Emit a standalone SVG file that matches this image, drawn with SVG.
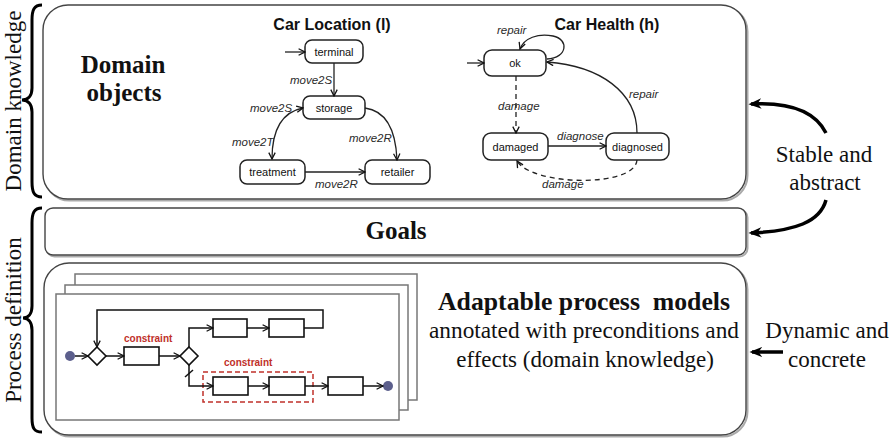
<svg xmlns="http://www.w3.org/2000/svg" width="893" height="442" viewBox="0 0 893 442">
<style>
.panel{fill:#fff;stroke:#444;stroke-width:1.4}
.shadow{fill:none;stroke:#aaa;stroke-width:2}
.state{fill:#fff;stroke:#222;stroke-width:1.5}
.stxt{font-family:"Liberation Sans",Arial,sans-serif;font-size:11px;fill:#111;text-anchor:middle}
.elab{font-family:"Liberation Sans",Arial,sans-serif;font-style:italic;font-size:11.5px;fill:#2a2a2a}
.title{font-family:"Liberation Sans",Arial,sans-serif;font-weight:bold;font-size:16px;fill:#111;text-anchor:middle}
.edge{fill:none;stroke:#222;stroke-width:1.3}
.dash{stroke-dasharray:5,4}
.serif{font-family:"Liberation Serif","Times New Roman",serif;fill:#111}
.bold{font-weight:bold}
.sheet{fill:#fff;stroke:#777;stroke-width:1.5}
.task{fill:#fff;stroke:#111;stroke-width:1.6}
.flow{fill:none;stroke:#111;stroke-width:1.5}
.red{font-family:"Liberation Sans",Arial,sans-serif;font-weight:bold;font-size:10px;fill:#c0302a}
.brace{fill:none;stroke:#000;stroke-width:3}
.big{fill:none;stroke:#000;stroke-width:3.5}
</style>
<defs>
<marker id="open" viewBox="0 0 10 10" refX="9" refY="5" markerWidth="8" markerHeight="8" markerUnits="userSpaceOnUse" orient="auto">
<path d="M1,1 L9,5 L1,9" fill="none" stroke="#111" stroke-width="1.6"/>
</marker>
<marker id="openS" viewBox="0 0 10 10" refX="9" refY="5" markerWidth="8" markerHeight="8" markerUnits="userSpaceOnUse" orient="auto-start-reverse">
<path d="M1,1 L9,5 L1,9" fill="none" stroke="#111" stroke-width="1.6"/>
</marker>
<marker id="bigA" viewBox="0 0 10 10" refX="8" refY="5" markerWidth="13" markerHeight="13" markerUnits="userSpaceOnUse" orient="auto">
<path d="M0,1 L10,5 L0,9 L3,5 Z" fill="#000"/>
</marker>
</defs>

<!-- left braces and labels -->
<g id="domain-knowledge-label">
<path class="brace" d="M42,5 C34,5 32,10 32,20 L32,88 C32,96 28,100 22,100 C28,100 32,104 32,112 L32,182 C32,192 34,197 42,197"/>
<text class="serif" font-size="23" text-anchor="middle" transform="translate(21,101) rotate(-90)">Domain knowledge</text>
</g>
<g id="process-definition-label">
<path class="brace" d="M42,208 C34,208 32,213 32,223 L32,306 C32,314 28,318 23,318 C28,318 32,322 32,330 L32,418 C32,428 34,432 42,432"/>
<text class="serif" font-size="23" text-anchor="middle" transform="translate(21,320) rotate(-90)">Process definition</text>
</g>

<!-- Domain objects panel -->
<g id="domain-objects">
<rect class="shadow" x="44.5" y="6.5" width="703" height="194" rx="25"/>
<rect class="panel" x="43" y="5" width="703" height="194" rx="25"/>
<text class="serif bold" font-size="25" text-anchor="middle" x="123" y="73">Domain</text>
<text class="serif bold" font-size="25" text-anchor="middle" x="124" y="101">objects</text>
</g>

<!-- Car Location -->
<g id="car-location">
<text class="title" x="332" y="30">Car Location (l)</text>
</g>
<g id="terminal"><rect class="state" x="305" y="40" width="58" height="23" rx="7"/><text class="stxt" x="334" y="55.5">terminal</text></g>
<g id="storage"><rect class="state" x="303" y="96" width="62" height="23" rx="7"/><text class="stxt" x="334" y="111.5">storage</text></g>
<g id="treatment"><rect class="state" x="240" y="160" width="65" height="24" rx="7"/><text class="stxt" x="272.5" y="176">treatment</text></g>
<g id="retailer"><rect class="state" x="365" y="160" width="65" height="24" rx="7"/><text class="stxt" x="397.5" y="176">retailer</text></g>

<!-- Car Health -->
<g id="car-health">
<text class="title" x="607" y="30">Car Health (h)</text>
</g>
<g id="ok"><rect class="state" x="484" y="50" width="62" height="26" rx="8"/><text class="stxt" x="515" y="67">ok</text></g>
<g id="damaged"><rect class="state" x="483" y="133" width="65" height="27" rx="8"/><text class="stxt" x="515.5" y="150.5">damaged</text></g>
<g id="diagnosed"><rect class="state" x="606" y="133" width="63" height="27" rx="8"/><text class="stxt" x="637.5" y="150.5">diagnosed</text></g>

<!-- Goals -->
<g id="goals">
<rect class="shadow" x="46.5" y="209.5" width="701" height="47" rx="8"/>
<rect class="panel" x="45" y="208" width="701" height="47" rx="8"/>
<text class="serif bold" font-size="25" text-anchor="middle" x="396" y="239">Goals</text>
</g>

<!-- Process panel -->
<g id="process-models">
<rect class="shadow" x="45.5" y="264.5" width="702" height="172" rx="25"/>
<rect class="panel" x="44" y="263" width="702" height="172" rx="25"/>
<text class="serif bold" font-size="25" text-anchor="middle" x="584" y="310" textLength="292" lengthAdjust="spacingAndGlyphs" style="white-space:pre">Adaptable process  models</text>
<text class="serif" font-size="23" text-anchor="middle" x="584" y="338" textLength="310" lengthAdjust="spacingAndGlyphs">annotated with preconditions and</text>
<text class="serif" font-size="23" text-anchor="middle" x="585" y="367">effects (domain knowledge)</text>
</g>

<g id="sheets">
<rect class="sheet" x="75" y="274" width="342" height="126"/>
<rect class="sheet" x="65" y="285" width="343" height="125"/>
<rect class="sheet" x="56" y="294" width="343" height="126"/>
</g>

<g id="process-flow">
<circle cx="70" cy="356" r="5" fill="#5c5f8c"/>
<polygon class="task" points="97,347 106,356 97,365 88,356"/>
<rect class="task" x="124" y="347" width="35" height="18"/>
<polygon class="task" points="189,347 198,356 189,365 180,356"/>
<rect class="task" x="213" y="319" width="34" height="18"/>
<rect class="task" x="269" y="319" width="35" height="18"/>
<rect class="task" x="213" y="377" width="35" height="18"/>
<rect class="task" x="269" y="377" width="36" height="18"/>
<rect class="task" x="328" y="377" width="35" height="18"/>
<circle cx="388" cy="386" r="5" fill="#5c5f8c"/>
<rect x="203" y="372" width="110" height="30" fill="none" stroke="#c0302a" stroke-width="1.5" stroke-dasharray="5,3"/>
<text class="red" x="124" y="342">constraint</text>
<text class="red" x="224" y="366">constraint</text>
</g>

<!-- connectors -->
<g id="connectors">
<!-- car location -->
<line class="edge" x1="285" y1="52" x2="305" y2="52" marker-end="url(#open)"/>
<line class="edge" x1="334" y1="63" x2="334" y2="96" marker-end="url(#open)"/>
<path class="edge" d="M272,159 Q272,114 303,108" marker-start="url(#openS)" marker-end="url(#openS)"/>
<path class="edge" d="M365,108 Q395,112 397,160" marker-end="url(#open)"/>
<line class="edge" x1="305" y1="172" x2="365" y2="172" marker-end="url(#open)"/>
<text class="elab" x="290" y="84">move2S</text>
<text class="elab" x="250" y="112">move2S</text>
<text class="elab" x="232" y="146">move2T</text>
<text class="elab" x="349" y="142">move2R</text>
<text class="elab" x="315" y="188">move2R</text>
<!-- car health -->
<line class="edge" x1="467" y1="63" x2="484" y2="63" marker-end="url(#open)"/>
<path class="edge" d="M547,59 C568,58 569,39 553,36 C538,33 524,38 520,49" marker-end="url(#open)"/>
<path class="edge" d="M637,133 C637,92 600,66 547,62" marker-end="url(#open)"/>
<line class="edge dash" x1="516" y1="76" x2="516" y2="133" marker-end="url(#open)"/>
<line class="edge" x1="548" y1="146" x2="606" y2="146" marker-end="url(#open)"/>
<path class="edge dash" d="M637,160 C635,188 532,186 517,161" marker-end="url(#open)"/>
<text class="elab" x="497" y="34">repair</text>
<text class="elab" x="629" y="98">repair</text>
<text class="elab" x="498" y="110">damage</text>
<text class="elab" x="557" y="140">diagnose</text>
<text class="elab" x="542" y="188">damage</text>
<!-- process flow -->
<line class="flow" x1="75" y1="356" x2="88" y2="356" marker-end="url(#open)"/>
<line class="flow" x1="106" y1="356" x2="124" y2="356" marker-end="url(#open)"/>
<line class="flow" x1="159" y1="356" x2="180" y2="356" marker-end="url(#open)"/>
<path class="flow" d="M189,347 V328 H213" marker-end="url(#open)"/>
<line class="flow" x1="247" y1="328" x2="269" y2="328" marker-end="url(#open)"/>
<path class="flow" d="M304,328 H323 V310 H97 V347" marker-end="url(#open)"/>
<path class="flow" d="M189,365 V386 H213" marker-end="url(#open)"/>
<line class="flow" x1="185" y1="377" x2="193" y2="370"/>
<line class="flow" x1="248" y1="386" x2="269" y2="386" marker-end="url(#open)"/>
<line class="flow" x1="305" y1="386" x2="328" y2="386" marker-end="url(#open)"/>
<line class="flow" x1="363" y1="386" x2="383" y2="386" marker-end="url(#open)"/>
<!-- big arrows -->
<path class="big" d="M826,133 C815,111 790,102 751,104" marker-end="url(#bigA)"/>
<path class="big" d="M826,200 C820,222 795,231 751,233" marker-end="url(#bigA)"/>
<line class="big" x1="783" y1="352" x2="752" y2="352" marker-end="url(#bigA)"/>
</g>

<g id="side-labels">
<text class="serif" font-size="23" text-anchor="middle" x="824" y="162">Stable and</text>
<text class="serif" font-size="23" text-anchor="middle" x="825" y="190">abstract</text>
<text class="serif" font-size="23" text-anchor="middle" x="827" y="338">Dynamic and</text>
<text class="serif" font-size="23" text-anchor="middle" x="827" y="367">concrete</text>
</g>
</svg>
